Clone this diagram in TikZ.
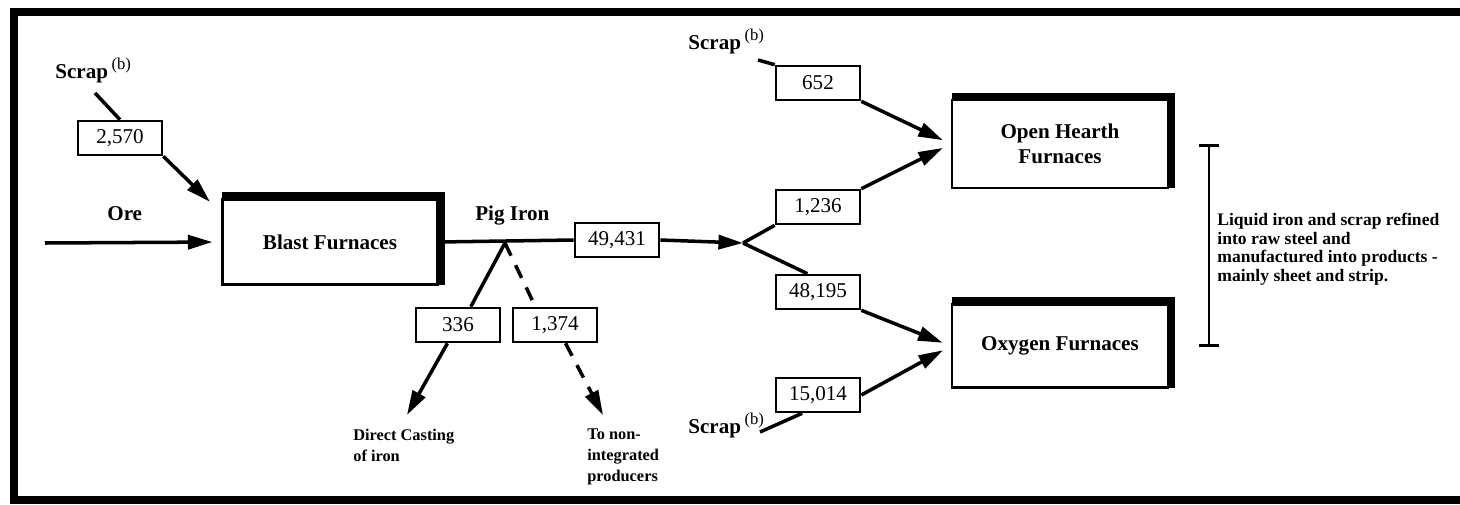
\documentclass[tikz,border=0pt]{standalone}
\usepackage{fontspec}
\setmainfont{Liberation Serif}
\usetikzlibrary{arrows.meta,positioning,calc}

\begin{document}
\begin{tikzpicture}[
  x=0.02cm, y=-0.02cm,
  every node/.style={font=\fontsize{12}{14}\selectfont},
  furnace/.style={rectangle, draw, line width=1.4pt, inner sep=0pt, align=center, font=\bfseries\fontsize{12}{14}\selectfont},
  qty/.style={rectangle, draw, line width=1.5pt, minimum width=1.68cm, minimum height=0.68cm, inner sep=0pt},
  lbl/.style={inner sep=0pt, font=\bfseries\fontsize{12}{14}\selectfont},
  smalllbl/.style={align=left, inner sep=0pt, font=\bfseries\fontsize{9.3}{12}\selectfont},
  note/.style={align=left, inner sep=0pt, font=\bfseries\fontsize{10}{10.6}\selectfont},
  flow/.style={line width=2pt},
  arr/.style={flow, -{Triangle[length=14pt, width=8pt]}},
  dashflow/.style={dash pattern=on 8pt off 6pt},
  topedge/.style={line width=3.5pt}
]

% page and frame
\useasboundingbox (0,0) rectangle (1460,504);
\draw[line width=4.5pt] (14,12) rectangle (1490,500);

% furnaces
\node[furnace, minimum width=4.3cm, minimum height=1.7cm] (bf) at (330,242) {Blast Furnaces};
\node[furnace, minimum width=4.32cm, minimum height=1.76cm] (oh) at (1060,144) {Open Hearth\\Furnaces};
\node[furnace, minimum width=4.32cm, minimum height=1.66cm] (ox) at (1060,346) {Oxygen Furnaces};
\foreach \f in {bf,oh,ox}
  \draw[topedge] ([shift={(1,-3)}]\f.north west) -- ([shift={(3,-3)}]\f.north east) -- ([shift={(3,-1)}]\f.south east);

% quantities
\node[qty] (n2570) at (120,138) {2,570};
\node[qty] (n49431) at (617,240) {49,431};
\node[qty] (n336) at (458,325) {336};
\node[qty] (n1374) at (555,325) {1,374};
\node[qty] (n652) at (818,83) {652};
\node[qty] (n1236) at (818,207) {1,236};
\node[qty] (n48195) at (818,292) {48,195};
\node[qty] (n15014) at (818,395) {15,014};

% labels
\newcommand{\bnote}{\,\raisebox{5pt}{\mdseries\fontsize{9.5}{10}\selectfont(b)}}
\node[lbl, anchor=base west] (scrapA) at (55,78) {Scrap\bnote};
\node[lbl, anchor=base west] (ore) at (107,220) {Ore};
\node[lbl, anchor=base west] (pig) at (475,220) {Pig Iron};
\node[lbl, anchor=base west] (scrapB) at (688,49) {Scrap\bnote};
\node[lbl, anchor=base west] (scrapC) at (688,433) {Scrap\bnote};
\node[smalllbl, anchor=north west] (cast) at (353,429) {Direct Casting\\of iron};
\node[smalllbl, anchor=north west] (nonint) at (587,428) {To non-\\integrated\\producers};
\node[note, anchor=north west] (liq) at (1217,213) {Liquid iron and scrap refined\\into raw steel and\\manufactured into products -\\mainly sheet and strip.};

% free ends
\coordinate (sA) at (95,93);
\coordinate (oreIn) at (45,243);
\coordinate (split) at (505,243);
\coordinate (fork) at (743,243);
\coordinate (castEnd) at (407,415);
\coordinate (nonEnd) at (603,415);
\coordinate (sB) at (758,60);
\coordinate (sC) at (760,432);
\coordinate (brTop) at (1209,144);
\coordinate (brBot) at (1209,347);

% flows
\draw[flow] (sA) -- (n2570.north);
\draw[arr, shorten >=9pt] (n2570.south east) -- (bf.165);
\draw[arr, shorten >=5pt] (oreIn) -- (bf.west);
\draw[flow] (bf.east) -- (n49431.west);
\draw[arr] (n49431.east) -- (fork);
\draw[flow] (fork) -- (n1236.south west);
\draw[flow] (fork) -- (n48195.120);
\draw[flow] (sB) -- (n652.north west);
\draw[flow] (sC) -- (n15014.-131);
\draw[arr, shorten >=5pt] (n652.south east) -- (oh.west);
\draw[arr, shorten >=5pt] (n1236.north east) -- (oh.west);
\draw[arr, shorten >=5pt] (n48195.south east) -- (ox.west);
\draw[arr, shorten >=5pt] (n15014.east) -- (ox.west);
\draw[flow] (split) -- (n336.55);
\draw[flow, dashflow] (split) -- (n1374.137);
\draw[arr] (n336.-120) -- (castEnd);
\draw[arr, dashflow] (n1374.-60) -- (nonEnd);

% bracket
\draw[line width=1.5pt, {Bar[width=11pt]}-{Bar[width=11pt]}] (brTop) -- (brBot);

\end{tikzpicture}
\end{document}
